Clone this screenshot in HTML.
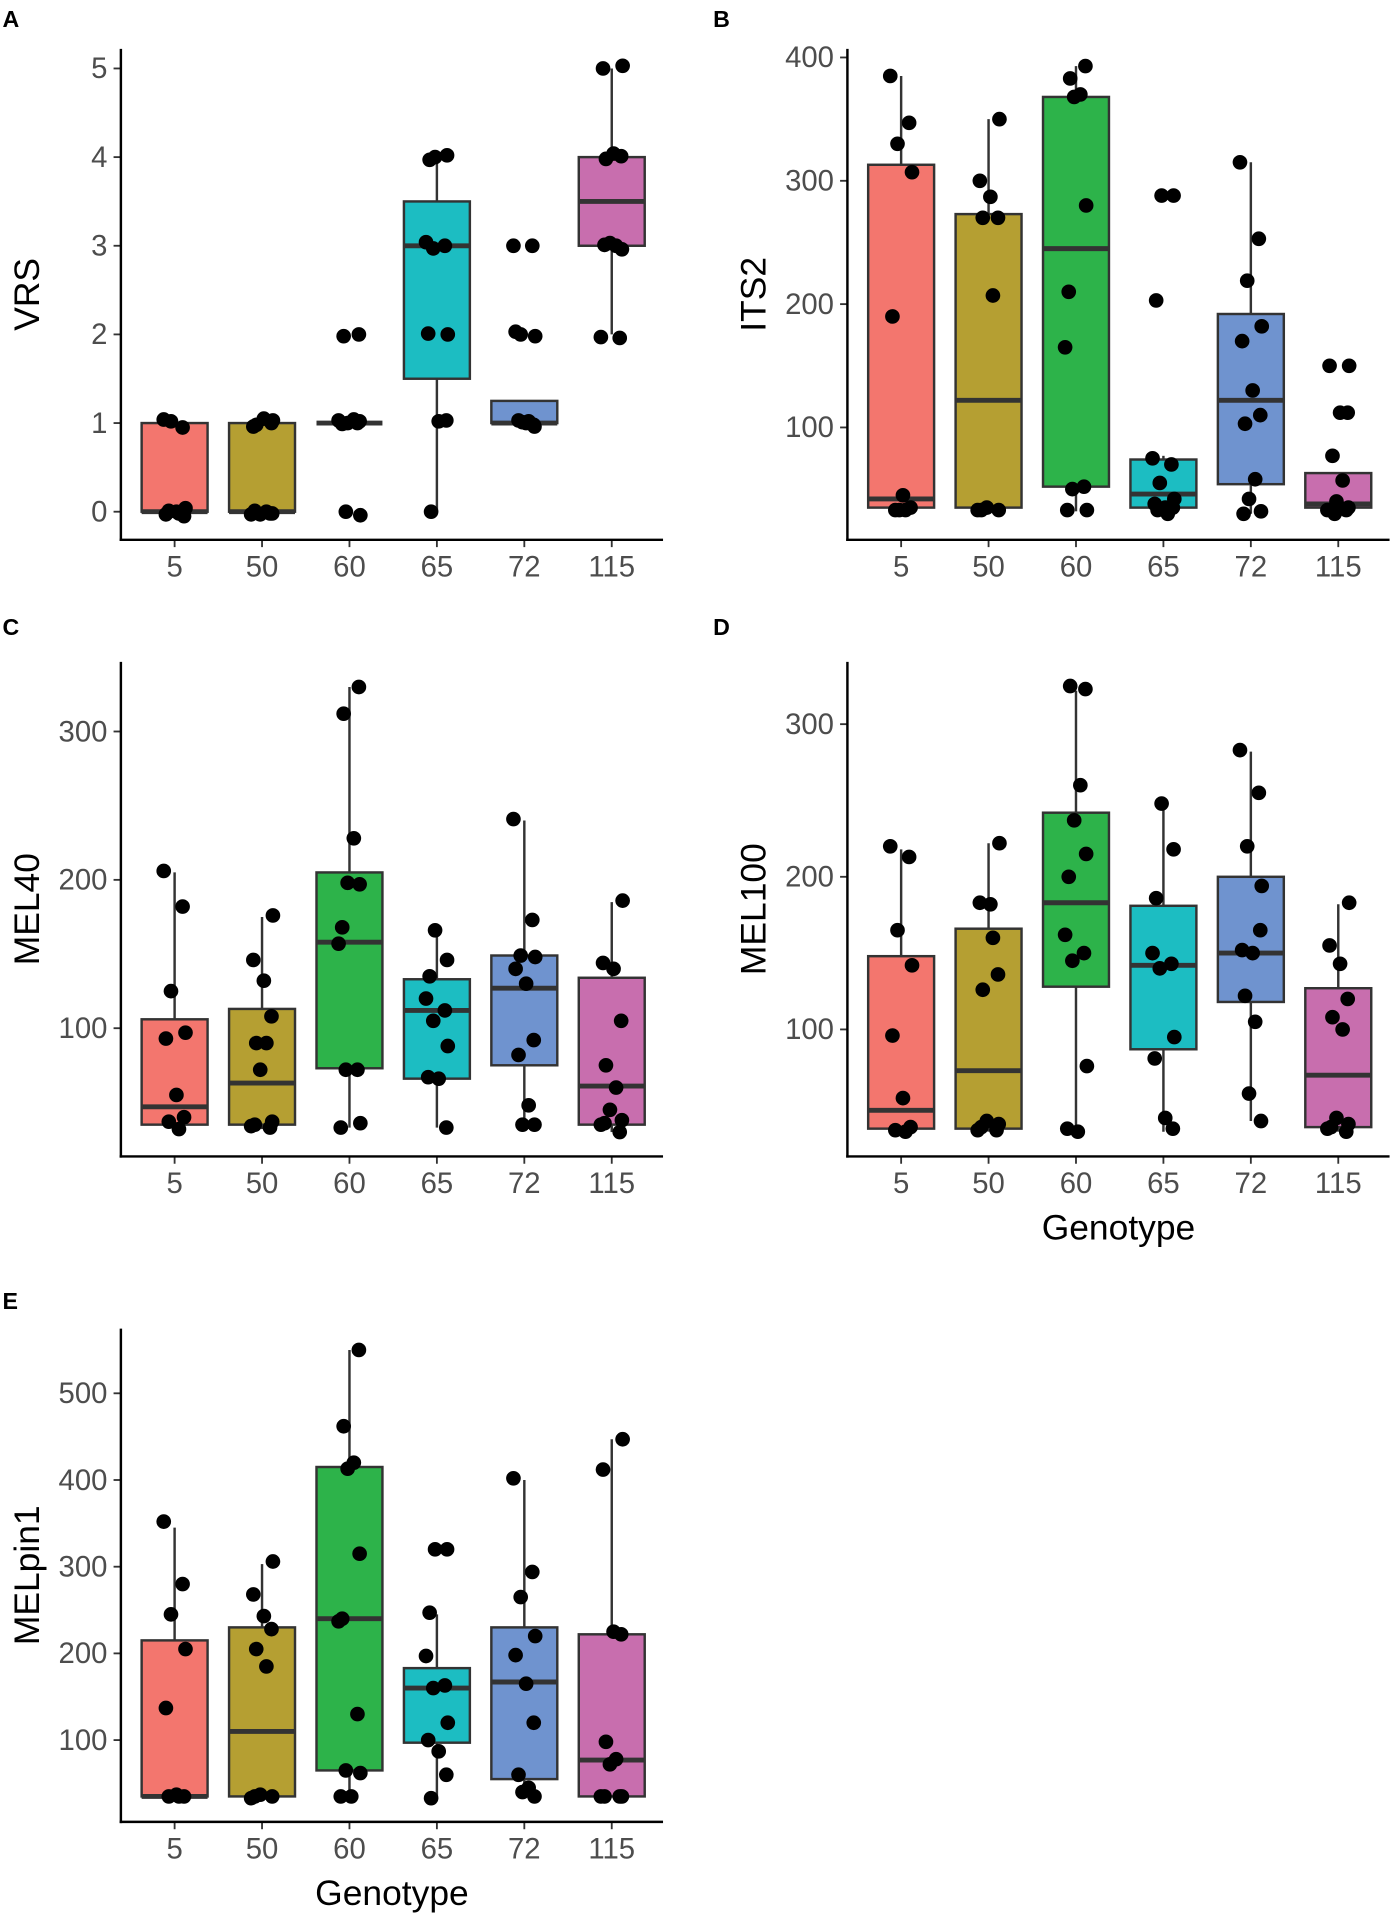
<!DOCTYPE html>
<html><head><meta charset="utf-8"><style>
html,body{margin:0;padding:0;background:#fff}
svg{display:block}
text{font-family:"Liberation Sans",Arial,sans-serif}
</style></head><body>
<svg id="fig" width="1392" height="1916" viewBox="0 0 1140 1569" xmlns="http://www.w3.org/2000/svg"></svg>
<script>
const categories = ["5","50","60","65","72","115"];
const colors = ["#F3766E","#B59F32","#2DB34A","#1CBDC2","#6F93CF","#C86EAE"];
// box stats per panel: [lowerWhisker, q1, median, q3, upperWhisker]
const vrsBoxes = [[0,0,0,1,1],[0,0,0,1,1],[1,1,1,1,1],[0,1.5,3,3.5,4],[1,1,1,1.25,1.25],[2,3,3.5,4,5]];
const vrsPoints = [[1.04,0.95,1.02,0.04,-0.03,0,-0.05,0.01,-0.02],[1.03,0.96,1.05,1,0.98,0,-0.03,-0.02,0.01,-0.03,-0.02],[2,1.98,1.04,1,1.02,0.99,1.03,1,0,-0.04],[4,4.02,3.97,3.04,3,2.97,2,2.01,1.02,1.03,0],[3,3,2,1.98,2.03,1,0.98,1.03,1.02,1.01,0.96],[5.03,5,4.04,4.01,3.98,3,3.03,2.96,3.01,1.97,1.96]];
const its2Boxes = [[30,35,42,313,385],[33,35,122,273,350],[32,52,245,368,393],[30,35,46,74,77],[30,54,122,192,315],[30,35,38,63,63]];
const its2Points = [[385,347,330,307,190,45,35,33,33,33],[350,300,287,270,270,207,35,33,33,33],[393,383,370,368,280,210,165,52,50,33,33],[288,288,203,75,70,55,42,38,35,35,33,30],[315,253,219,182,170,130,110,103,58,42,32,30],[150,150,112,112,77,57,40,35,33,33,33,30]];
const mel40Boxes = [[30,35,47,106,205],[32,35,63,113,175],[33,73,158,205,330],[33,66,112,133,165],[33,75,127,149,240],[30,35,61,134,185]];
const mel40Points = [[206,182,125,97,93,55,40,37,32],[176,146,132,108,90,90,72,37,35,34,33],[330,312,228,198,197,168,157,72,72,36,33],[166,146,135,120,112,105,88,67,66,33],[241,173,149,148,140,130,92,82,48,35,35],[186,144,140,105,75,60,45,38,36,35,30]];
const mel100Boxes = [[33,35,47,148,218],[33,35,73,166,222],[33,128,183,242,322],[33,87,142,181,247],[40,118,150,200,282],[33,36,70,127,182]];
const mel100Points = [[220,213,165,142,96,55,36,34,33],[222,183,182,136,126,160,40,38,36,34,34],[323,325,260,237,215,200,162,150,145,76,35,33],[248,218,186,150,143,140,95,81,42,35],[283,255,220,194,152,150,165,122,105,58,40],[183,155,143,120,108,100,42,38,36,35,33]];
const pinBoxes = [[35,35,35,215,345],[33,35,110,230,303],[35,65,240,415,550],[33,97,160,183,245],[35,55,167,230,400],[35,35,77,222,447]];
const pinPoints = [[352,280,245,205,137,37,35,35,35],[306,268,243,228,205,185,37,35,35,33],[550,462,420,413,315,240,237,130,65,62,35,35],[320,320,247,197,163,160,120,100,87,60,33],[402,294,265,220,198,165,120,60,45,40,35],[447,412,225,222,98,78,72,35,35,35,35]];
const vrsTicks=[0,1,2,3,4,5], its2Ticks=[100,200,300,400], mel40Ticks=[100,200,300], mel100Ticks=[100,200,300], pinTicks=[100,200,300,400,500];
const jitter=[-0.3,0.22,-0.1,0.3,-0.24,0.05,0.26,-0.16,0.12,-0.05,0.28,-0.2];

const NS="http://www.w3.org/2000/svg";
const svg=document.getElementById('fig');
function mk(tag,attrs,parent,txt){const e=document.createElementNS(NS,tag);for(const k in attrs)e.setAttribute(k,attrs[k]);if(txt!==undefined)e.textContent=txt;(parent||svg).appendChild(e);return e;}

function panel(o){
  const g=mk('g',{});
  
  
  const y=v=>o.y0px+(v-o.v0)*(o.y1px-o.y0px)/(o.v1-o.v0);
  const x=i=>o.xl+44+i*71.6;
  const lt=mk('text',{x:o.lx,y:o.ly,'font-size':19,'font-weight':'bold',fill:'#000'},g,o.letter);
  
  
  categories.forEach((c,i)=>{
    const b=o.boxes[i], cx=x(i), hw=27;
    const bg=mk('g',{},g);
    
    
    mk('line',{x1:cx,x2:cx,y1:y(b[4]),y2:y(b[3]),stroke:'#333','stroke-width':2},bg);
    mk('line',{x1:cx,x2:cx,y1:y(b[1]),y2:y(b[0]),stroke:'#333','stroke-width':2},bg);
    mk('rect',{x:cx-hw,y:y(b[3]),width:hw*2,height:Math.max(0,y(b[1])-y(b[3])),fill:colors[i],stroke:'#333','stroke-width':2},bg);
    mk('line',{x1:cx-hw,x2:cx+hw,y1:y(b[2]),y2:y(b[2]),stroke:'#333','stroke-width':4},bg);
    o.points[i].forEach((v,j)=>{
      const p=mk('circle',{cx:cx+jitter[(j+i*3)%jitter.length]*hw*1.1,cy:y(v),r:6,fill:'#000'},g);
      
      
    });
    mk('line',{x1:cx,x2:cx,y1:o.xaxisY,y2:o.xaxisY+6,stroke:'#333','stroke-width':1.5},g);
    const tt=mk('text',{x:cx,y:o.xaxisY+30,'font-size':24,'text-anchor':'middle',fill:'#4d4d4d'},g,c);
    
    
  });
  o.ticks.forEach(t=>{
    mk('line',{x1:o.xl-6,x2:o.xl,y1:y(t),y2:y(t),stroke:'#333','stroke-width':1.5},g);
    const tt=mk('text',{x:o.xl-11,y:y(t)+8,'font-size':24,'text-anchor':'end',fill:'#4d4d4d'},g,String(t));
    
    
  });
  const ya=mk('line',{x1:o.xl,x2:o.xl,y1:o.top,y2:o.xaxisY+1,stroke:'#000','stroke-width':2},g);
  
  
  const xa=mk('line',{x1:o.xl-1,x2:o.xl+444,y1:o.xaxisY,y2:o.xaxisY,stroke:'#000','stroke-width':2},g);
  
  
  const yt=mk('text',{x:0,y:0,'font-size':29,'text-anchor':'middle',fill:'#000',transform:`translate(${o.xl-67},${(o.top+o.xaxisY)/2}) rotate(-90)`},g,o.title);
  
  
  if(o.xtitle){
    const xt=mk('text',{x:o.xl+222,y:o.xaxisY+68,'font-size':29,'text-anchor':'middle',fill:'#000'},g,'Genotype');
    
    
  }
}
panel({letter:'A',lx:2,ly:22,xl:99,top:40,xaxisY:442,v0:0,v1:5,y0px:419,y1px:56,boxes:vrsBoxes,points:vrsPoints,ticks:vrsTicks,title:'VRS'});
panel({letter:'B',lx:584,ly:22,xl:694,top:40,xaxisY:442,v0:100,v1:400,y0px:350,y1px:47,boxes:its2Boxes,points:its2Points,ticks:its2Ticks,title:'ITS2'});
panel({letter:'C',lx:2,ly:520,xl:99,top:542,xaxisY:947,v0:100,v1:300,y0px:842,y1px:599,boxes:mel40Boxes,points:mel40Points,ticks:mel40Ticks,title:'MEL40'});
panel({letter:'D',lx:584,ly:520,xl:694,top:542,xaxisY:947,v0:100,v1:300,y0px:843,y1px:593,boxes:mel100Boxes,points:mel100Points,ticks:mel100Ticks,title:'MEL100',xtitle:true});
panel({letter:'E',lx:2,ly:1072,xl:99,top:1088,xaxisY:1492,v0:100,v1:500,y0px:1425,y1px:1141,boxes:pinBoxes,points:pinPoints,ticks:pinTicks,title:'MELpin1',xtitle:true});
</script>
</body></html>
